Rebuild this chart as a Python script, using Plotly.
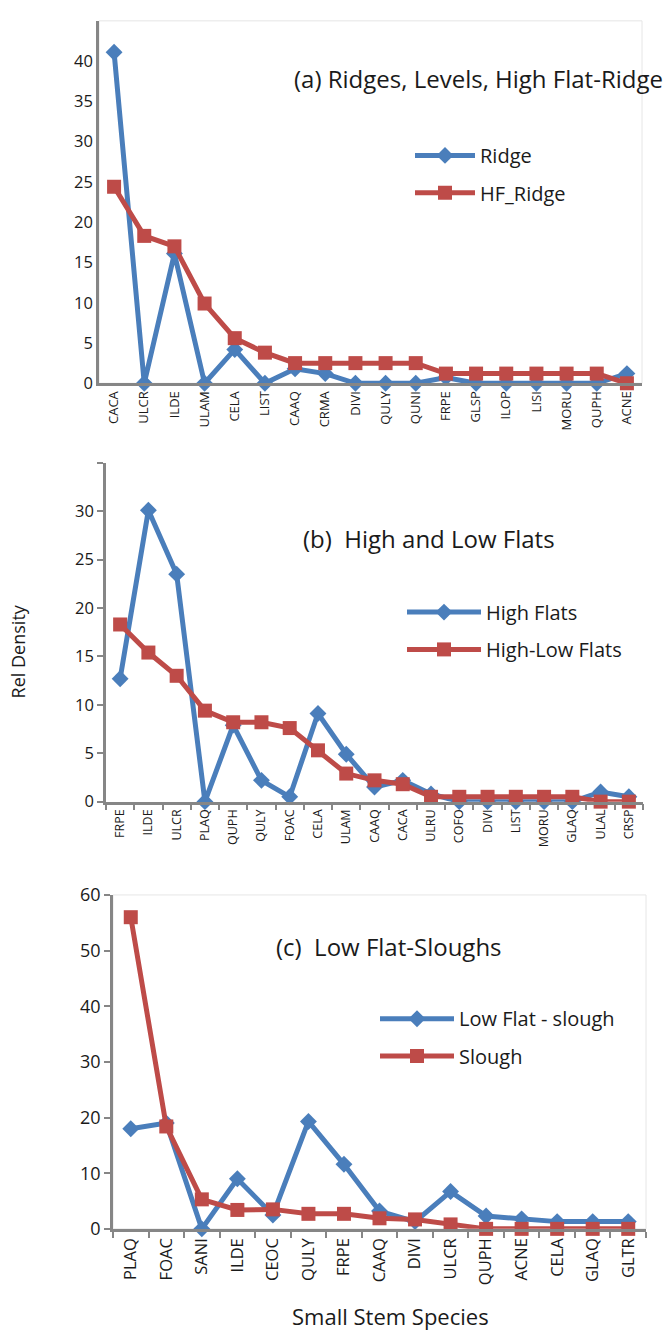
import plotly.graph_objects as go

W, H = 669, 1342

# ---------------- data ----------------
cats_a = ["CACA", "ULCR", "ILDE", "ULAM", "CELA", "LIST", "CAAQ", "CRMA", "DIVI",
          "QULY", "QUNI", "FRPE", "GLSP", "ILOP", "LISI", "MORU", "QUPH", "ACNE"]
ridge = [41.1, 0, 16.1, 0, 4.2, 0, 1.8, 1.2, 0, 0, 0, 0.7, 0, 0, 0, 0, 0, 1.2]
hf_ridge = [24.4, 18.3, 17.0, 9.9, 5.6, 3.8, 2.5, 2.5, 2.5, 2.5, 2.5, 1.2, 1.2, 1.2, 1.2, 1.2, 1.2, 0]

cats_b = ["FRPE", "ILDE", "ULCR", "PLAQ", "QUPH", "QULY", "FOAC", "CELA", "ULAM", "CAAQ",
          "CACA", "ULRU", "COFO", "DIVI", "LIST", "MORU", "GLAQ", "ULAL", "CRSP"]
high_flats = [12.7, 30.1, 23.5, 0, 7.9, 2.2, 0.5, 9.1, 4.9, 1.5, 2.2, 0.8, 0, 0, 0, 0, 0, 1.0, 0.5]
high_low_flats = [18.3, 15.4, 13.0, 9.4, 8.2, 8.2, 7.6, 5.3, 2.9, 2.2, 1.8, 0.5, 0.5, 0.5, 0.5, 0.5, 0.5, 0, 0]

cats_c = ["PLAQ", "FOAC", "SANI", "ILDE", "CEOC", "QULY", "FRPE", "CAAQ", "DIVI", "ULCR",
          "QUPH", "ACNE", "CELA", "GLAQ", "GLTR"]
low_flat_slough = [18.0, 19.0, 0, 9.0, 2.5, 19.3, 11.6, 3.2, 1.3, 6.7, 2.3, 1.8, 1.3, 1.3, 1.3]
slough = [56.0, 18.4, 5.3, 3.4, 3.5, 2.7, 2.7, 1.9, 1.7, 0.8, 0, 0, 0, 0, 0]

yticks_a = [0, 5, 10, 15, 20, 25, 30, 35, 40]
ylabels_a = ["0", "5", "10", "15", "20", "25", "30", "35", "40"]
yticks_b = [0, 5, 10, 15, 20, 25, 30, 35]
ylabels_b = ["0", "5", "10", "15", "20", "25", "30", ""]
yticks_c = [0, 10, 20, 30, 40, 50, 60]
ylabels_c = ["0", "10", "20", "30", "40", "50", "60"]

titles = ["(a) Ridges, Levels, High Flat-Ridge", "(b)  High and Low Flats", "(c)  Low Flat-Sloughs"]

# ---------------- styling ----------------
BLUE = "#4A7EBB"
RED = "#BE4B48"
AX = "#868686"
FONT = "Open Sans"
TXT = "#1a1a1a"


def px_x(p):
    return p / W


def px_y(p):
    return 1 - p / H


fig = go.Figure()

panels = [
    dict(cats=cats_a, s1=ridge, s2=hf_ridge, n1="Ridge", n2="HF_Ridge",
         x0=99, x1=642, y0=8, y1=377, rng=[0, 45], tv=yticks_a, tt=ylabels_a, ticks="", tfs=16.5, xfs=13,
         leg=(410, 145, 183), iw=60, title=(478, 67), border=True),
    dict(cats=cats_b, s1=high_flats, s2=high_low_flats, n1="High Flats", n2="High-Low Flats",
         x0=106, x1=643, y0=458, y1=803, rng=[0, 35], tv=yticks_b, tt=ylabels_b, ticks="outside", tfs=16.5, xfs=12.5,
         leg=(402, 610, 648), iw=74, title=(429, 535), border=False),
    dict(cats=cats_c, s1=low_flat_slough, s2=slough, n1="Low Flat - slough", n2="Slough",
         x0=113, x1=646, y0=898, y1=1238, rng=[0, 60], tv=yticks_c, tt=ylabels_c, ticks="outside", tfs=18, xfs=16.5,
         leg=(375, 1024, 1062), iw=74, title=(389, 950), border=True),
]

shapes = []
annotations = []
legends = {}
li = 1
for i, p in enumerate(panels, start=1):
    xa = "x" if i == 1 else f"x{i}"
    ya = "y" if i == 1 else f"y{i}"
    lg1 = "legend" if li == 1 else f"legend{li}"
    lg2 = f"legend{li + 1}"
    fig.add_trace(go.Scatter(x=p["cats"], y=p["s1"], name=p["n1"], mode="lines+markers",
                             line=dict(color=BLUE, width=5),
                             marker=dict(symbol="diamond", size=13, color=BLUE),
                             xaxis=xa, yaxis=ya, legend=lg1, cliponaxis=False))
    fig.add_trace(go.Scatter(x=p["cats"], y=p["s2"], name=p["n2"], mode="lines+markers",
                             line=dict(color=RED, width=5),
                             marker=dict(symbol="square", size=14, color=RED),
                             xaxis=xa, yaxis=ya, legend=lg2, cliponaxis=False))
    lx, ly1, ly2 = p["leg"]
    for k, yy in ((li, ly1), (li + 1, ly2)):
        key = "legend" if k == 1 else f"legend{k}"
        legends[key] = dict(x=px_x(lx), y=px_y(yy), xanchor="left", yanchor="middle",
                            bgcolor="rgba(0,0,0,0)", font=dict(family=FONT, size=20, color=TXT),
                            itemwidth=p["iw"])
    li += 2

    ax_suffix = "" if i == 1 else str(i)
    fig.update_layout(**{
        f"xaxis{ax_suffix}": dict(
            domain=[px_x(p["x0"]), px_x(p["x1"])], anchor=ya,
            type="category", range=[-0.5, len(p["cats"]) - 0.5],
            showline=True, linecolor=AX, linewidth=2.5, showgrid=False, zeroline=False,
            ticks=p["ticks"], tickson="boundaries", ticklen=6, tickwidth=2, tickcolor=AX,
            tickangle=-90, tickfont=dict(family=FONT, size=p["xfs"], color=TXT)),
        f"yaxis{ax_suffix}": dict(
            domain=[px_y(p["y1"]), px_y(p["y0"])], anchor=xa,
            range=p["rng"], tickvals=p["tv"], ticktext=p["tt"],
            showline=True, linecolor=AX, linewidth=2.5, showgrid=False, zeroline=False,
            ticks=p["ticks"], ticklen=6, tickwidth=2, tickcolor=AX,
            tickfont=dict(family=FONT, size=p["tfs"], color=TXT)),
    })
    if p["border"]:
        shapes.append(dict(type="rect", xref="paper", yref="paper", layer="below",
                           x0=px_x(p["x0"]), x1=px_x(p["x1"]), y0=px_y(p["y1"]), y1=px_y(p["y0"]),
                           line=dict(color="#e6e6e6", width=1)))
    tx, ty = p["title"]
    annotations.append(dict(text=titles[i - 1], x=px_x(tx), y=px_y(ty), xref="paper", yref="paper",
                            showarrow=False, xanchor="center", yanchor="middle",
                            font=dict(family=FONT, size=24, color=TXT)))

annotations.append(dict(text="Rel Density", x=px_x(18), y=px_y(650), xref="paper", yref="paper",
                        showarrow=False, textangle=-90, xanchor="center", yanchor="middle",
                        font=dict(family=FONT, size=18, color=TXT)))
annotations.append(dict(text="Small Stem Species", x=px_x(390), y=px_y(1327), xref="paper", yref="paper",
                        showarrow=False, xanchor="center", yanchor="middle",
                        font=dict(family=FONT, size=22, color=TXT)))

fig.update_layout(width=W, height=H, autosize=False, margin=dict(l=0, r=0, t=0, b=0, pad=0),
                  paper_bgcolor="white", plot_bgcolor="white", showlegend=True,
                  shapes=shapes, annotations=annotations, **legends)

fig.write_html("out.html")
